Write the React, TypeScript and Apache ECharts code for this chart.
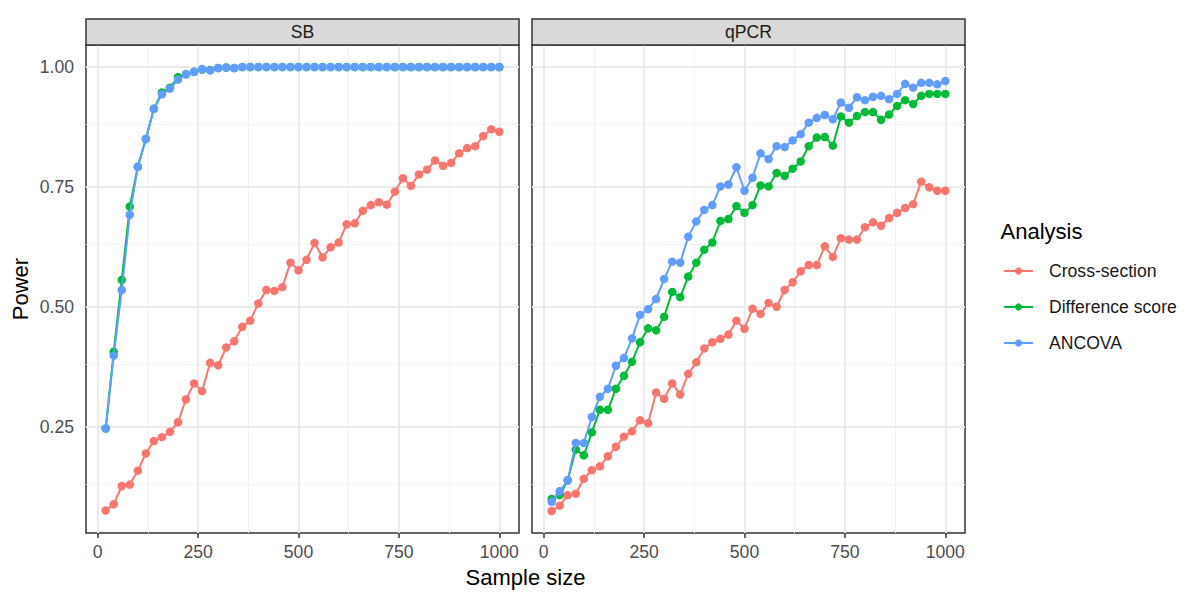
import React, { useEffect, useRef } from "react";
import * as echarts from "echarts";

const sampleSizes = [
  20, 40, 60, 80, 100, 120, 140, 160, 180, 200,
  220, 240, 260, 280, 300, 320, 340, 360, 380, 400,
  420, 440, 460, 480, 500, 520, 540, 560, 580, 600,
  620, 640, 660, 680, 700, 720, 740, 760, 780, 800,
  820, 840, 860, 880, 900, 920, 940, 960, 980, 1000,
];

const panels = ["SB", "qPCR"];
const analyses = ["Cross-section", "Difference score", "ANCOVA"];
const colors = ["#F8766D", "#00BA38", "#619CFF"];

const sbCross = [
  0.075, 0.088, 0.126, 0.129, 0.158, 0.194, 0.220, 0.228, 0.239, 0.259,
  0.307, 0.340, 0.324, 0.383, 0.378, 0.415, 0.428, 0.458, 0.471, 0.507,
  0.535, 0.533, 0.541, 0.592, 0.576, 0.598, 0.633, 0.603, 0.624, 0.634,
  0.672, 0.674, 0.700, 0.712, 0.718, 0.713, 0.740, 0.768, 0.752, 0.776,
  0.786, 0.805, 0.794, 0.800, 0.820, 0.831, 0.835, 0.856, 0.870, 0.865,
];
const sbDiff = [
  0.246, 0.406, 0.556, 0.709, 0.792, 0.850, 0.913, 0.947, 0.957, 0.979,
  0.985, 0.990, 0.995, 0.994, 0.998, 0.999, 0.998, 1.000, 1.000, 1.000,
  1.000, 1.000, 1.000, 1.000, 1.000, 1.000, 1.000, 1.000, 1.000, 1.000,
  1.000, 1.000, 1.000, 1.000, 1.000, 1.000, 1.000, 1.000, 1.000, 1.000,
  1.000, 1.000, 1.000, 1.000, 1.000, 1.000, 1.000, 1.000, 1.000, 1.000,
];
const sbAncova = [
  0.246, 0.398, 0.535, 0.692, 0.792, 0.850, 0.913, 0.943, 0.955, 0.974,
  0.985, 0.990, 0.996, 0.993, 0.998, 0.999, 0.998, 1.000, 1.000, 1.000,
  1.000, 1.000, 1.000, 1.000, 1.000, 1.000, 1.000, 1.000, 1.000, 1.000,
  1.000, 1.000, 1.000, 1.000, 1.000, 1.000, 1.000, 1.000, 1.000, 1.000,
  1.000, 1.000, 1.000, 1.000, 1.000, 1.000, 1.000, 1.000, 1.000, 1.000,
];

const qpcrCross = [
  0.074, 0.085, 0.107, 0.110, 0.141, 0.159, 0.167, 0.188, 0.208, 0.229,
  0.240, 0.263, 0.257, 0.321, 0.308, 0.340, 0.317, 0.360, 0.384, 0.413,
  0.426, 0.433, 0.442, 0.471, 0.454, 0.496, 0.485, 0.508, 0.500, 0.535,
  0.551, 0.574, 0.587, 0.587, 0.626, 0.604, 0.643, 0.640, 0.640, 0.666,
  0.676, 0.669, 0.685, 0.696, 0.706, 0.714, 0.761, 0.749, 0.742, 0.742,
];
const qpcrDiff = [
  0.099, 0.107, 0.138, 0.202, 0.190, 0.238, 0.285, 0.285, 0.329, 0.356,
  0.385, 0.426, 0.455, 0.451, 0.479, 0.531, 0.520, 0.563, 0.592, 0.619,
  0.634, 0.679, 0.683, 0.710, 0.696, 0.712, 0.753, 0.751, 0.779, 0.773,
  0.788, 0.803, 0.835, 0.853, 0.854, 0.836, 0.897, 0.884, 0.898, 0.906,
  0.906, 0.890, 0.901, 0.919, 0.931, 0.923, 0.940, 0.944, 0.944, 0.944,
];
const qpcrAncova = [
  0.093, 0.115, 0.138, 0.216, 0.216, 0.270, 0.312, 0.329, 0.377, 0.393,
  0.434, 0.483, 0.495, 0.516, 0.558, 0.594, 0.592, 0.646, 0.678, 0.702,
  0.712, 0.751, 0.755, 0.791, 0.742, 0.769, 0.820, 0.808, 0.835, 0.833,
  0.847, 0.860, 0.884, 0.894, 0.900, 0.891, 0.926, 0.915, 0.937, 0.931,
  0.938, 0.940, 0.933, 0.944, 0.965, 0.957, 0.967, 0.967, 0.964, 0.971,
];

const xTicks = [0, 250, 500, 750, 1000];
const xMinor = [125, 375, 625, 875];
const yTicks = [0.25, 0.5, 0.75, 1.0];
const yMinor = [0.125, 0.375, 0.625, 0.875];

const panelData = [
  [sbCross, sbDiff, sbAncova],
  [qpcrCross, qpcrDiff, qpcrAncova],
];

const FONT = '"Liberation Sans", Arial, Helvetica, sans-serif';

export default function App() {
  const ref = useRef<HTMLDivElement>(null);

  useEffect(() => {
    if (!ref.current) return;
    const chart = echarts.init(ref.current, null, { renderer: "svg" });

    const gridLefts = [86, 532];
    const gridW = 433;
    const gridTop = 45;
    const gridH = 488;

    const grids = gridLefts.map((l) => ({
      left: l,
      top: gridTop,
      width: gridW,
      height: gridH,
      show: true,
      backgroundColor: "#FFFFFF",
      borderColor: "#333333",
      borderWidth: 1.5,
      containLabel: false,
    }));

    const xAxes = gridLefts.map((_, i) => ({
      type: "value",
      gridIndex: i,
      min: -29,
      max: 1049,
      axisLine: { show: false },
      axisTick: {
        show: true,
        length: 5,
        customValues: xTicks,
        lineStyle: { color: "#333333", width: 1.5 },
      },
      axisLabel: {
        show: true,
        customValues: xTicks,
        margin: 10,
        fontSize: 17.6,
        color: "#4D4D4D",
        fontFamily: FONT,
        formatter: (v: number) => String(v),
      },
      splitLine: { show: false },
    }));

    const yAxes = gridLefts.map((_, i) => ({
      type: "value",
      gridIndex: i,
      min: 0.028,
      max: 1.046,
      axisLine: { show: false },
      axisTick: {
        show: i === 0,
        length: 5,
        customValues: yTicks,
        lineStyle: { color: "#333333", width: 1.5 },
      },
      axisLabel: {
        show: i === 0,
        customValues: yTicks,
        margin: 12,
        fontSize: 17.6,
        color: "#4D4D4D",
        fontFamily: FONT,
        formatter: (v: number) => v.toFixed(2),
      },
      splitLine: { show: false },
    }));

    const series: any[] = [];
    panels.forEach((_, p) => {
      const major = { color: "#EBEBEB", width: 2, type: "solid" };
      const minor = { color: "#F2F2F2", width: 1, type: "solid" };
      series.push({
        name: "grid" + p,
        type: "line",
        xAxisIndex: p,
        yAxisIndex: p,
        data: [[500, 0.5]],
        symbol: "none",
        lineStyle: { opacity: 0 },
        silent: true,
        z: 1,
        markLine: {
          silent: true,
          symbol: "none",
          animation: false,
          z: 1,
          zlevel: 0,
          label: { show: false },
          emphasis: { disabled: true },
          data: [
            ...xMinor.map((v) => ({ xAxis: v, lineStyle: minor })),
            ...yMinor.map((v) => ({ yAxis: v, lineStyle: minor })),
            ...xTicks.map((v) => ({ xAxis: v, lineStyle: major })),
            ...yTicks.map((v) => ({ yAxis: v, lineStyle: major })),
          ],
        },
      });
      analyses.forEach((name, a) => {
        const vals = panelData[p][a];
        series.push({
          name,
          type: "line",
          xAxisIndex: p,
          yAxisIndex: p,
          data: sampleSizes.map((n, i) => [n, vals[i]]),
          symbol: "circle",
          symbolSize: 8.5,
          showSymbol: true,
          lineStyle: { width: 2, color: colors[a] },
          itemStyle: { color: colors[a], borderWidth: 0 },
          emphasis: { disabled: true },
          z: 10 + a,
        });
      });
    });

    const graphic: any[] = [];
    panels.forEach((label, p) => {
      graphic.push({
        type: "rect",
        shape: { x: gridLefts[p], y: 19, width: gridW, height: 26 },
        style: { fill: "#D9D9D9", stroke: "#333333", lineWidth: 1.5 },
        z: 20,
      });
      graphic.push({
        type: "text",
        x: gridLefts[p] + gridW / 2,
        y: 32,
        style: {
          text: label,
          fontSize: 17.6,
          fontFamily: FONT,
          fill: "#1A1A1A",
          align: "center",
          verticalAlign: "middle",
          textAlign: "center",
          textVerticalAlign: "middle",
        },
        z: 21,
      });
    });
    graphic.push({
      type: "text",
      x: 525.5,
      y: 577,
      style: {
        text: "Sample size",
        fontSize: 22,
        fontFamily: FONT,
        fill: "#000000",
        align: "center",
        verticalAlign: "middle",
        textAlign: "center",
        textVerticalAlign: "middle",
      },
    });
    graphic.push({
      type: "text",
      x: 20.5,
      y: 289,
      rotation: Math.PI / 2,
      style: {
        text: "Power",
        fontSize: 22,
        fontFamily: FONT,
        fill: "#000000",
        align: "center",
        verticalAlign: "middle",
        textAlign: "center",
        textVerticalAlign: "middle",
      },
    });
    graphic.push({
      type: "text",
      x: 1000.5,
      y: 231.5,
      style: {
        text: "Analysis",
        fontSize: 22,
        fontFamily: FONT,
        fill: "#000000",
        align: "left",
        verticalAlign: "middle",
        textAlign: "left",
        textVerticalAlign: "middle",
      },
    });

    chart.setOption({
      animation: false,
      backgroundColor: "#FFFFFF",
      textStyle: { fontFamily: FONT },
      grid: grids,
      xAxis: xAxes,
      yAxis: yAxes,
      series,
      graphic,
      legend: {
        orient: "vertical",
        left: 1003,
        top: 261,
        padding: 0,
        itemWidth: 29,
        itemHeight: 9,
        itemGap: 16,
        selectedMode: false,
        data: analyses,
        textStyle: {
          fontSize: 17.6,
          color: "#1A1A1A",
          fontFamily: FONT,
          lineHeight: 20,
          padding: [0, 0, 0, 11],
        },
      },
    });

    return () => chart.dispose();
  }, []);

  return (
    <div
      ref={ref}
      style={{ position: "fixed", left: 0, top: 0, width: 1188, height: 593 }}
    />
  );
}
